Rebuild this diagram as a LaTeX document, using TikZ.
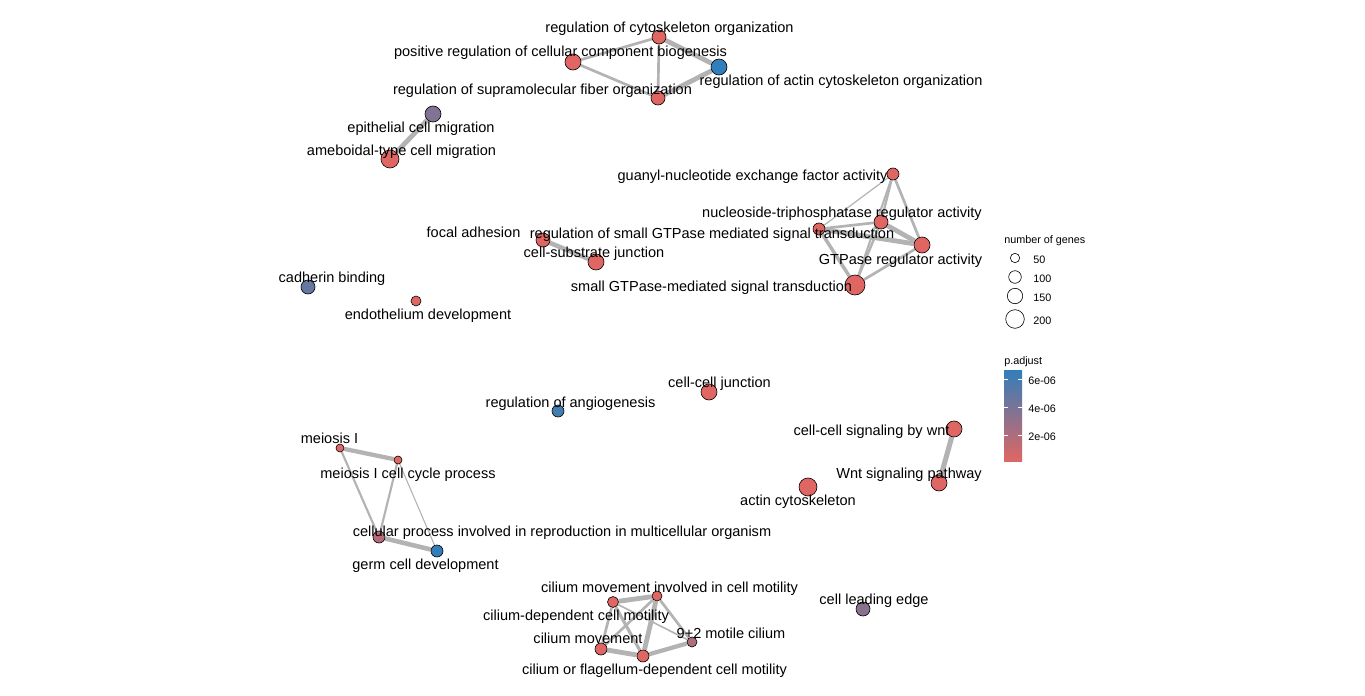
\documentclass[tikz,border=0pt]{standalone}
\usepackage{fontspec}
\setmainfont{Liberation Sans}
\usetikzlibrary{backgrounds}
\definecolor{plow}{HTML}{E06663}
\definecolor{phigh}{HTML}{327EBA}
\definecolor{linkgray}{HTML}{B3B3B3}
\tikzset{
	term/.style={circle, draw=black, line width=0.45pt, inner sep=0pt,
			minimum size=#1*1.5pt, fill=plow},
	lbl/.style={inner sep=0pt, yshift=-1.5pt, text height=7.9pt, text depth=2.3pt,
			font=\fontsize{10.9}{13}\selectfont},
	key/.style={inner sep=0pt, yshift=-1pt, font=\fontsize{8.1}{10}\selectfont},
	link/.style={draw=linkgray, line width=#1}
}

\begin{document}
\begin{tikzpicture}[x=0.75pt, y=-0.75pt]
			\useasboundingbox (0,0) rectangle (1365,696);
			% Draw the terms
			\node[term=7] (regcyto) at (659,37) {};
			\node[term=8] (posreg) at (573,62) {};
			\node[term=8, fill=phigh] (regactin) at (719,67) {};
			\node[term=7] (regfiber) at (658,98) {};
			\node[term=8, fill=phigh!55!plow] (epimig) at (433,114) {};
			\node[term=9] (amemig) at (390,159) {};
			\node[term=6] (guanyl) at (893,174) {};
			\node[term=7] (ntpase) at (881,222) {};
			\node[term=6] (regsgtp) at (819,229) {};
			\node[term=8] (gtpreg) at (922,245) {};
			\node[term=10] (sgtp) at (855,285) {};
			\node[term=7] (focal) at (543,240) {};
			\node[term=8] (cellsub) at (596,262) {};
			\node[term=7, fill=phigh!70!plow] (cadherin) at (308,287) {};
			\node[term=5] (endo) at (416,301) {};
			\node[term=8] (ccjunc) at (709,392) {};
			\node[term=6, fill=phigh!90!plow] (angio) at (558,411) {};
			\node[term=8] (wntsig) at (954,429) {};
			\node[term=8] (wntpath) at (939,483) {};
			\node[term=9] (actin) at (808,487) {};
			\node[term=4] (meio) at (340,448) {};
			\node[term=4] (meiocc) at (398,460) {};
			\node[term=6, fill=phigh!25!plow] (reprod) at (379,537) {};
			\node[term=6, fill=phigh] (germ) at (437,551) {};
			\node[term=5] (cilinv) at (657,596) {};
			\node[term=5.5] (cildep) at (613,602) {};
			\node[term=6] (cilmov) at (601,649) {};
			\node[term=6] (cilflag) at (643,656) {};
			\node[term=5, fill=phigh!30!plow] (motile) at (692,642) {};
			\node[term=7, fill=phigh!50!plow] (leading) at (863,609) {};
			% Draw the links
			\begin{pgfonlayer}{background}
				\fill[white] (0,0) rectangle (1365,696);
				\draw[link=2pt] (regcyto) -- (posreg);
				\draw[link=3.6pt] (regcyto) -- (regactin);
				\draw[link=2pt] (regcyto) -- (regfiber);
				\draw[link=2pt] (posreg) -- (regfiber);
				\draw[link=3.6pt] (regfiber) -- (regactin);
				\draw[link=3.6pt] (epimig) -- (amemig);
				\draw[link=1.8pt] (guanyl) -- (ntpase);
				\draw[link=1.5pt] (guanyl) -- (sgtp);
				\draw[link=2pt] (guanyl) -- (gtpreg);
				\draw[link=0.9pt] (guanyl) -- (regsgtp);
				\draw[link=2pt] (regsgtp) -- (ntpase);
				\draw[link=3.6pt] (regsgtp) -- (gtpreg);
				\draw[link=2.6pt] (regsgtp) -- (sgtp);
				\draw[link=3.6pt] (ntpase) -- (gtpreg);
				\draw[link=1.8pt] (ntpase) -- (sgtp);
				\draw[link=2pt] (gtpreg) -- (sgtp);
				\draw[link=3.4pt] (focal) -- (cellsub);
				\draw[link=3.8pt] (wntsig) -- (wntpath);
				\draw[link=3.2pt] (meio) -- (meiocc);
				\draw[link=1.6pt] (meio) -- (reprod);
				\draw[link=1.6pt] (meiocc) -- (reprod);
				\draw[link=0.8pt] (meiocc) -- (germ);
				\draw[link=3.4pt] (reprod) -- (germ);
				\draw[link=3.6pt] (cilinv) -- (cildep);
				\draw[link=2pt] (cilinv) -- (cilmov);
				\draw[link=3.6pt] (cilinv) -- (cilflag);
				\draw[link=2pt] (cilinv) -- (motile);
				\draw[link=2pt] (cildep) -- (cilmov);
				\draw[link=2.4pt] (cildep) -- (cilflag);
				\draw[link=1.2pt] (cildep) -- (motile);
				\draw[link=3.6pt] (cilmov) -- (cilflag);
				\draw[link=3.2pt] (cilflag) -- (motile);
			\end{pgfonlayer}
			% Labels
			\node[lbl] (regcyto-l) at (669.5,27) {regulation of cytoskeleton organization};
			\node[lbl] (posreg-l) at (560.5,51) {positive regulation of cellular component biogenesis};
			\node[lbl] (regactin-l) at (841,80) {regulation of actin cytoskeleton organization};
			\node[lbl] (regfiber-l) at (542.5,89) {regulation of supramolecular fiber organization};
			\node[lbl] (epimig-l) at (421,127) {epithelial cell migration};
			\node[lbl] (amemig-l) at (401.5,150) {ameboidal-type cell migration};
			\node[lbl] (guanyl-l) at (752.5,175) {guanyl-nucleotide exchange factor activity};
			\node[lbl] (ntpase-l) at (842,212) {nucleoside-triphosphatase regulator activity};
			\node[lbl] (regsgtp-l) at (712,233) {regulation of small GTPase mediated signal transduction};
			\node[lbl] (gtpreg-l) at (900.5,259) {GTPase regulator activity};
			\node[lbl] (sgtp-l) at (711.5,286) {small GTPase-mediated signal transduction};
			\node[lbl] (focal-l) at (473.5,232) {focal adhesion};
			\node[lbl] (cellsub-l) at (594,252) {cell-substrate junction};
			\node[lbl] (cadherin-l) at (332,277) {cadherin binding};
			\node[lbl] (endo-l) at (428,314) {endothelium development};
			\node[lbl] (ccjunc-l) at (719.5,382) {cell-cell junction};
			\node[lbl] (angio-l) at (570.5,402) {regulation of angiogenesis};
			\node[lbl] (wntsig-l) at (871.5,430) {cell-cell signaling by wnt};
			\node[lbl] (wntpath-l) at (909,473) {Wnt signaling pathway};
			\node[lbl] (actin-l) at (798,500) {actin cytoskeleton};
			\node[lbl] (meio-l) at (329.5,438) {meiosis I};
			\node[lbl] (meiocc-l) at (408,473) {meiosis I cell cycle process};
			\node[lbl] (reprod-l) at (562,531) {cellular process involved in reproduction in multicellular organism};
			\node[lbl] (germ-l) at (425.5,564) {germ cell development};
			\node[lbl] (cilinv-l) at (669.5,587) {cilium movement involved in cell motility};
			\node[lbl] (cildep-l) at (576,615) {cilium-dependent cell motility};
			\node[lbl] (cilmov-l) at (588,638) {cilium movement};
			\node[lbl] (motile-l) at (731,633) {9+2 motile cilium};
			\node[lbl] (cilflag-l) at (654.5,669) {cilium or flagellum-dependent cell motility};
			\node[lbl] (leading-l) at (874,599) {cell leading edge};
			% Legend: size
			\node[key, anchor=west] (size-t) at (1004,239) {number of genes};
			\foreach \r/\y/\n in {4.7/258/50, 6.3/277/100, 7.7/296/150, 9.3/319/200} {
				\node[circle, draw=black, line width=0.45pt, inner sep=0pt, minimum size=\r*1.5pt] (size-\n) at (1015,\y) {};
				\node[key, anchor=west] (size-\n-l) at (1033,\y) {\n};
			}
			% Legend: colour
			\node[key, anchor=west] (col-t) at (1004,360) {p.adjust};
			\shade[top color=phigh, bottom color=plow] (1004,370) rectangle (1022,461);
			\foreach \y/\v in {379/6e-06, 407/4e-06, 435/2e-06} {
				\draw[white, line width=0.5pt] (1004,\y) -- (1008,\y) (1018,\y) -- (1022,\y);
				\node[key, anchor=west] (col-\y) at (1028,\y) {\v};
			}
		\end{tikzpicture}
\end{document}
